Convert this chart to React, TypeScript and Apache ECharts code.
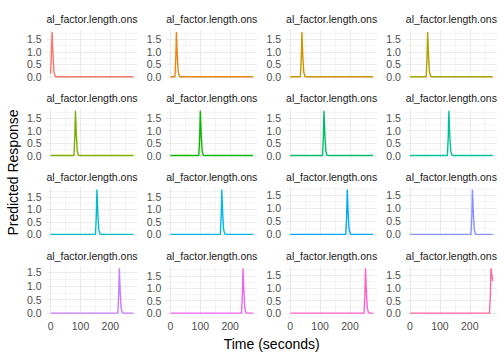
import React, { useEffect, useRef } from "react";
import * as echarts from "echarts";

// ---- data ----
const stripLabels = [
  "al_factor.length.ons", "al_factor.length.ons", "al_factor.length.ons", "al_factor.length.ons",
  "al_factor.length.ons", "al_factor.length.ons", "al_factor.length.ons", "al_factor.length.ons",
  "al_factor.length.ons", "al_factor.length.ons", "al_factor.length.ons", "al_factor.length.ons",
  "al_factor.length.ons", "al_factor.length.ons", "al_factor.length.ons", "al_factor.length.ons",
];

const panelColors = [
  "#F8766D", "#E68613", "#CD9600", "#ABA300",
  "#7CAE00", "#0CB702", "#00BE67", "#00C19A",
  "#00BFC4", "#00B8E7", "#00A9FF", "#8494FF",
  "#C77CFF", "#ED68ED", "#FF61CC", "#FF68A1",
];

const xTicks = [0, 100, 200];
const xMinorTicks = [50, 150, 250];
const yTicks = [0, 0.5, 1, 1.5];
const yMinorTicks = [0.25, 0.75, 1.25, 1.75];

// time (s), predicted response
const resp01 = [[0, 0.12], [2, 0.75], [5, 1.8], [8, 0.85], [11, 0.2], [15, 0.02], [19, 0], [277, 0]];
const resp02 = [[0, 0], [15, 0], [18, 0.75], [20, 1.8], [23, 0.85], [26, 0.2], [30, 0.02], [34, 0], [277, 0]];
const resp03 = [[0, 0], [34, 0], [37, 0.75], [39, 1.8], [42, 0.85], [45, 0.2], [49, 0.02], [53, 0], [277, 0]];
const resp04 = [[0, 0], [54, 0], [57, 0.75], [59, 1.8], [62, 0.85], [65, 0.2], [69, 0.02], [73, 0], [277, 0]];
const resp05 = [[0, 0], [78, 0], [81, 0.75], [83, 1.8], [86, 0.85], [89, 0.2], [93, 0.02], [97, 0], [277, 0]];
const resp06 = [[0, 0], [95, 0], [98, 0.75], [100, 1.8], [103, 0.85], [106, 0.2], [110, 0.02], [114, 0], [277, 0]];
const resp07 = [[0, 0], [108, 0], [111, 0.75], [113, 1.8], [116, 0.85], [119, 0.2], [123, 0.02], [127, 0], [277, 0]];
const resp08 = [[0, 0], [125, 0], [128, 0.75], [130, 1.8], [133, 0.85], [136, 0.2], [140, 0.02], [144, 0], [277, 0]];
const resp09 = [[0, 0], [150, 0], [153, 0.75], [155, 1.8], [158, 0.85], [161, 0.2], [165, 0.02], [169, 0], [277, 0]];
const resp10 = [[0, 0], [167, 0], [170, 0.75], [172, 1.8], [175, 0.85], [178, 0.2], [182, 0.02], [186, 0], [277, 0]];
const resp11 = [[0, 0], [186, 0], [189, 0.7], [191, 1.7], [194, 0.8], [197, 0.19], [201, 0.02], [205, 0], [277, 0]];
const resp12 = [[0, 0], [204, 0], [207, 0.7], [209, 1.7], [212, 0.8], [215, 0.19], [219, 0.02], [223, 0], [277, 0]];
const resp13 = [[0, 0], [225, 0], [228, 0.7], [230, 1.65], [233, 0.78], [236, 0.18], [240, 0.02], [244, 0], [277, 0]];
const resp14 = [[0, 0], [238, 0], [241, 0.75], [243, 1.8], [246, 0.85], [249, 0.2], [253, 0.02], [257, 0], [277, 0]];
const resp15 = [[0, 0], [247, 0], [250, 0.74], [252, 1.78], [255, 0.84], [258, 0.2], [262, 0.02], [266, 0], [277, 0]];
const resp16 = [[0, 0], [266, 0], [269, 0.74], [271, 1.78], [277, 1.27]];

const responses = [
  resp01, resp02, resp03, resp04, resp05, resp06, resp07, resp08,
  resp09, resp10, resp11, resp12, resp13, resp14, resp15, resp16,
];

const xTitle = "Time (seconds)";
const yTitle = "Predicted Response";

// ---- layout ----
const FONT = '"Liberation Sans", Arial, Helvetica, sans-serif';
const X_MIN = -13.85;
const X_MAX = 290.85;
const PANEL_W = 91;
const PANEL_H = 49.3;
const COL0 = 46.5;
const COL_STEP = 119.8;
const ROW0 = 29.7;
const ROW_STEP = 78.8;

export default function App() {
  const ref = useRef<HTMLDivElement>(null);

  useEffect(() => {
    if (!ref.current) return;
    const chart = echarts.init(ref.current, undefined, { renderer: "svg" });

    const grids: any[] = [];
    const xAxes: any[] = [];
    const yAxes: any[] = [];
    const series: any[] = [];
    const graphics: any[] = [];

    responses.forEach((data, i) => {
      const r = Math.floor(i / 4);
      const c = i % 4;
      const left = COL0 + COL_STEP * c;
      const top = ROW0 + ROW_STEP * r;
      grids.push({ left, top, width: PANEL_W, height: PANEL_H, containLabel: false });

      const vals = data.map((d) => d[1]);
      const dMin = Math.min(...vals);
      const dMax = Math.max(...vals);
      const pad = (dMax - dMin) * 0.05;
      const yMin = dMin - pad;
      const yMax = dMax + pad;

      // major x axis
      xAxes.push({
        gridIndex: i,
        type: "value",
        min: X_MIN,
        max: X_MAX,
        axisLine: { show: false },
        axisTick: { show: false, customValues: xTicks },
        axisLabel: {
          show: r === 3,
          customValues: xTicks,
          color: "#4D4D4D",
          fontSize: 10.5,
          fontFamily: FONT,
          margin: 5,
        },
        splitLine: { show: true, lineStyle: { color: "#EBEBEB", width: 1.1 } },
      });
      // minor x axis
      xAxes.push({
        gridIndex: i,
        type: "value",
        min: X_MIN,
        max: X_MAX,
        axisLine: { show: false },
        axisTick: { show: false, customValues: xMinorTicks },
        axisLabel: { show: false, customValues: xMinorTicks },
        splitLine: { show: true, lineStyle: { color: "#EBEBEB", width: 0.55 } },
      });
      // major y axis
      yAxes.push({
        gridIndex: i,
        type: "value",
        position: "left",
        min: yMin,
        max: yMax,
        axisLine: { show: false },
        axisTick: { show: false, customValues: yTicks.filter((v) => v >= yMin && v <= yMax) },
        axisLabel: {
          show: true,
          customValues: yTicks.filter((v) => v >= yMin && v <= yMax),
          color: "#4D4D4D",
          fontSize: 10.5,
          fontFamily: FONT,
          margin: 5,
          formatter: (v: number) => v.toFixed(1),
        },
        splitLine: { show: true, lineStyle: { color: "#EBEBEB", width: 1.1 } },
      });
      // minor y axis
      yAxes.push({
        gridIndex: i,
        type: "value",
        position: "left",
        min: yMin,
        max: yMax,
        axisLine: { show: false },
        axisTick: { show: false, customValues: yMinorTicks.filter((v) => v >= yMin && v <= yMax) },
        axisLabel: { show: false, customValues: yMinorTicks.filter((v) => v >= yMin && v <= yMax) },
        splitLine: { show: true, lineStyle: { color: "#EBEBEB", width: 0.55 } },
      });

      series.push({
        type: "line",
        xAxisIndex: i * 2,
        yAxisIndex: i * 2,
        data,
        showSymbol: false,
        symbol: "none",
        silent: true,
        z: 5,
        lineStyle: { color: panelColors[i], width: 1.4 },
        itemStyle: { color: panelColors[i] },
      });

      graphics.push({
        type: "text",
        x: left + PANEL_W / 2,
        y: top - 10.5,
        style: {
          text: stripLabels[i],
          fill: "#1A1A1A",
          font: `10.5px ${FONT}`,
          align: "center",
          textAlign: "center",
          verticalAlign: "middle",
          textVerticalAlign: "middle",
        },
      });
    });

    const plotLeft = COL0;
    const plotRight = COL0 + COL_STEP * 3 + PANEL_W;
    const plotTop = ROW0;
    const plotBottom = ROW0 + ROW_STEP * 3 + PANEL_H;

    graphics.push({
      type: "text",
      x: (plotLeft + plotRight) / 2,
      y: 344,
      style: {
        text: xTitle,
        fill: "#000000",
        font: `14px ${FONT}`,
        align: "center",
        textAlign: "center",
        verticalAlign: "middle",
        textVerticalAlign: "middle",
      },
    });
    graphics.push({
      type: "text",
      x: 13.3,
      y: (plotTop + plotBottom) / 2,
      rotation: Math.PI / 2,
      style: {
        text: yTitle,
        fill: "#000000",
        font: `14px ${FONT}`,
        align: "center",
        textAlign: "center",
        verticalAlign: "middle",
        textVerticalAlign: "middle",
      },
    });

    chart.setOption({
      animation: false,
      backgroundColor: "#FFFFFF",
      grid: grids,
      xAxis: xAxes,
      yAxis: yAxes,
      series,
      graphic: graphics,
    });

    return () => chart.dispose();
  }, []);

  return (
    <div
      ref={ref}
      style={{ position: "fixed", left: 0, top: 0, width: 504, height: 360, background: "#FFFFFF" }}
    />
  );
}
